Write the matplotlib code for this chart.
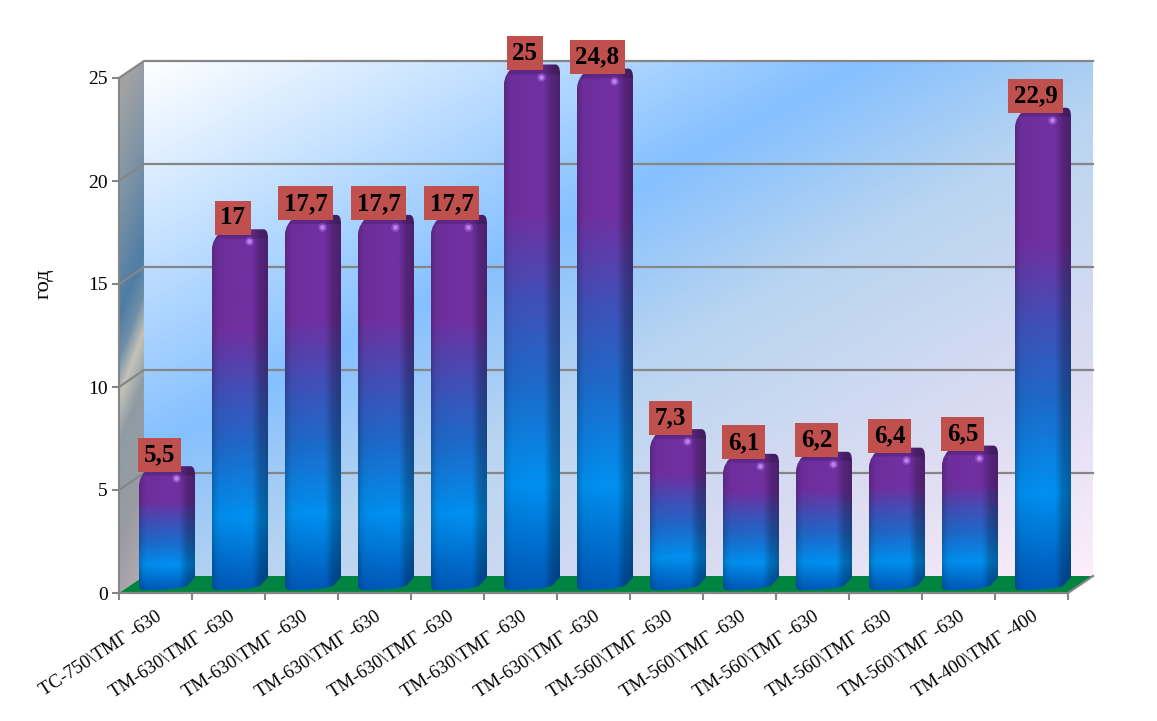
import numpy as np
import matplotlib
matplotlib.use("Agg")
import matplotlib.pyplot as plt
from matplotlib.colors import to_rgb
from matplotlib.patches import PathPatch, Polygon
from matplotlib.path import Path

categories = [
    "ТС-750\\ТМГ -630", "ТМ-630\\ТМГ -630", "ТМ-630\\ТМГ -630", "ТМ-630\\ТМГ -630",
    "ТМ-630\\ТМГ -630", "ТМ-630\\ТМГ -630", "ТМ-630\\ТМГ -630", "ТМ-560\\ТМГ -630",
    "ТМ-560\\ТМГ -630", "ТМ-560\\ТМГ -630", "ТМ-560\\ТМГ -630", "ТМ-560\\ТМГ -630",
    "ТМ-400\\ТМГ -400",
]
values = [5.5, 17, 17.7, 17.7, 17.7, 25, 24.8, 7.3, 6.1, 6.2, 6.4, 6.5, 22.9]
value_labels = ["5,5", "17", "17,7", "17,7", "17,7", "25", "24,8", "7,3", "6,1", "6,2", "6,4", "6,5", "22,9"]
y_ticks = [0, 5, 10, 15, 20, 25]
y_title = "год"

plt.rcParams["font.family"] = ["Liberation Serif", "DejaVu Serif"]

W, H = 1157, 721
X0, X1, Y0, Y1 = 119, 1068, 593, 78  # axes box in pixels
PX = 13 / (X1 - X0)
PY = 25 / (Y0 - Y1)
DX, DY = 25 * PX, 17 * PY  # depth of the 3d box


def ramp(t, stops):
    pos = [s[0] for s in stops]
    cols = np.array([to_rgb(s[1]) for s in stops])
    return np.stack([np.interp(t, pos, cols[:, k]) for k in range(3)], axis=-1)


def bar_path(i, v):
    l = i + 20 * PX
    r = l + 56 * PX
    front = r - 8 * PX
    b = 3 * PY
    t = v + 13.5 * PY
    rx, ry = 9 * PX, 9 * PY
    verts = [
        (l + rx / 2, b), (l, b), (l, b + ry / 2),
        (l, t - 2.2 * ry),
        (l, t - ry), (l + 1.3 * rx, t),
        (r - rx / 2, t),
        (r, t), (r, t - ry),
        (r, b + 1.4 * ry),
        (front, b + 0.2),
        (front - rx, b), (l + rx / 2, b), (l + rx / 2, b),
    ]
    codes = [Path.MOVETO, Path.CURVE3, Path.CURVE3, Path.LINETO, Path.CURVE3, Path.CURVE3,
             Path.LINETO, Path.CURVE3, Path.CURVE3, Path.LINETO, Path.LINETO,
             Path.CURVE3, Path.CURVE3, Path.CLOSEPOLY]
    return Path(verts, codes), (l, r, b, t)


fig = plt.figure(figsize=(W / 100, H / 100), dpi=100)
ax = fig.add_axes([X0 / W, 1 - Y0 / H, (X1 - X0) / W, (Y0 - Y1) / H])

# back wall
u, v = np.meshgrid(np.linspace(0, 1, 300), np.linspace(0, 1, 300))
wall = ramp((u + v) / 2, [(0, "#ffffff"), (0.38, "#85c0ff"), (0.55, "#b8d4f0"), (0.8, "#dcdcf2"), (1, "#fdeefb")])
im = ax.imshow(wall, extent=(DX, 13 + DX, DY, 25 + DY), origin="upper", aspect="auto", zorder=1)
im.set_clip_on(False)

# left wall
u, v = np.meshgrid(np.linspace(0, 1, 30), np.linspace(0, 1, 300))
side = ramp(v + 0.12 * (u - 0.5), [(0, "#a3a3a3"), (0.2, "#7f94a6"), (0.42, "#4f7da5"), (0.5, "#6f8fa8"),
                                    (0.57, "#c4c2b8"), (0.66, "#8f9ba4"), (0.85, "#9a9ca2"), (1, "#b0a8ae")])
im = ax.imshow(side, extent=(0, DX, 0, 25 + DY), origin="upper", aspect="auto", zorder=1)
im.set_clip_box(fig.bbox)
im.set_clip_path(Polygon([(0, 0), (DX, DY), (DX, 25 + DY), (0, 25)], transform=ax.transData))

# floor
ax.add_patch(Polygon([(0, 0), (13, 0), (13 + DX, DY), (DX, DY)], fc="#00843f", ec="none", zorder=2, clip_on=False))
ax.plot([0, 13, 13 + DX], [0, 0, DY], color="#868686", lw=1.6, zorder=2.5, clip_on=False)

# grid
for t in y_ticks[1:]:
    ax.plot([0, DX, 13 + DX], [t, t + DY, t + DY], color="#868686", lw=1.6, zorder=2, clip_on=False)

bar_stops = [(0, "#0058b8"), (0.06, "#0068c8"), (0.2, "#0090f0"), (0.4, "#1f68c8"),
             (0.55, "#4050b8"), (0.72, "#7030a0"), (1, "#7030a0")]
shade_x = [0, 0.04, 0.12, 0.45, 0.72, 0.86, 1]
shade_y = [0.8, 0.88, 0.97, 1.0, 1.0, 0.76, 0.68]

for i, val in enumerate(values):
    path, (l, r, b, t) = bar_path(i, val)
    clip = PathPatch(path, fc="none", ec="none", transform=ax.transData)
    ax.add_patch(clip)
    gy = np.linspace(0, 1, 300)
    gx = np.linspace(0, 1, 60)
    col = ramp(gy, bar_stops)[:, None, :]
    img = col * np.interp(gx, shade_x, shade_y)[None, :, None]
    # darker cap on top of the cylinder
    cap = gy > 1 - 9.5 * PY / (t - b)
    img[cap, :, :] *= 0.85
    im = ax.imshow(img, extent=(l, r, b, t), origin="lower", aspect="auto", zorder=3)
    im.set_clip_box(fig.bbox)
    im.set_clip_path(clip)
    ax.scatter([l + 37 * PX], [val + 1.5 * PY], s=40, color="#a060e0", alpha=0.5, lw=0, zorder=3.5, clip_on=False)
    ax.scatter([l + 37 * PX], [val + 1.5 * PY], s=12, color="#c890f0", alpha=0.8, lw=0, zorder=3.6, clip_on=False)
    ax.annotate(value_labels[i], (i + 0.5, val), xytext=(4 * 0.72, 25 * 0.72), textcoords="offset points",
                ha="center", va="center", fontsize=18, fontweight="bold", color="black", zorder=5,
                annotation_clip=False,
                bbox=dict(boxstyle="square,pad=0.22", fc="#c0504d", ec="none"))

ax.set_xlim(0, 13)
ax.set_ylim(0, 25)
ax.set_xticks(range(14))
ax.set_xticklabels([])
ax.set_xticks(np.arange(13) + 0.5, categories, minor=True, rotation=33, ha="right",
              rotation_mode="anchor", fontsize=13.5)
ax.tick_params(axis="x", which="major", length=5, width=1.5, color="#868686")
ax.tick_params(axis="x", which="minor", length=0, pad=11)
ax.set_yticks(y_ticks)
ax.tick_params(axis="y", length=5, width=1.5, color="#868686", labelsize=14, pad=3)
ax.set_ylabel(y_title, fontsize=16, labelpad=25, y=0.6)
for name in ["top", "right", "bottom"]:
    ax.spines[name].set_visible(False)
ax.spines["left"].set_color("#868686")
ax.spines["left"].set_linewidth(1.5)

fig.savefig("out.png", dpi=100)
